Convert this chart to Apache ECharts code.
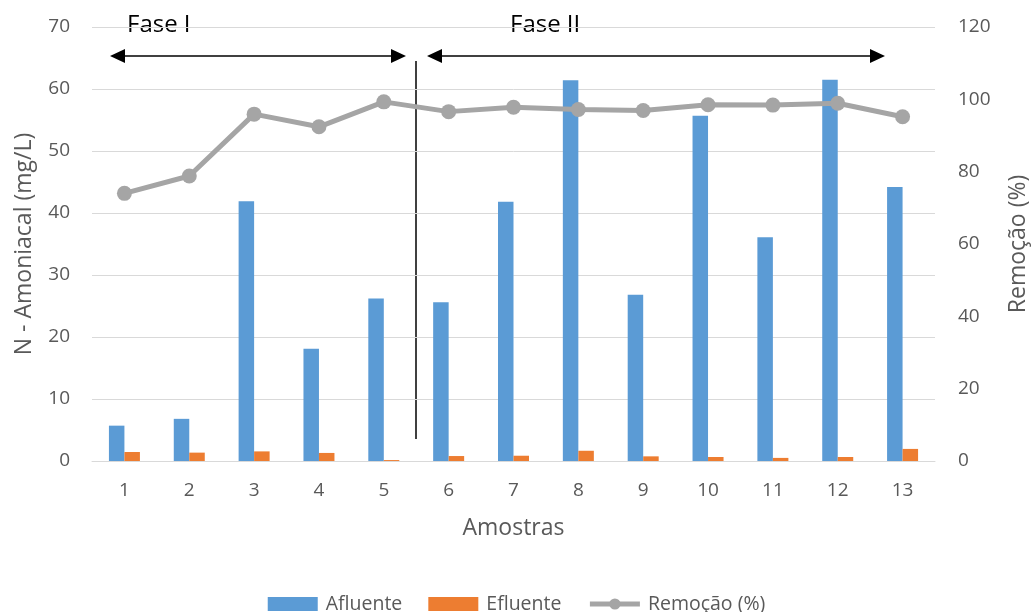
<!DOCTYPE html>
<html>
<head>
<meta charset="utf-8">
<script src="https://cdn.jsdelivr.net/npm/echarts@6/dist/echarts.min.js"></script>
<style>
  html, body { margin: 0; padding: 0; background: #fff; }
  #chart { width: 1033px; height: 612px; }
</style>
</head>
<body>
<div id="chart"></div>
<script>
// Amostras (sample numbers)
const samples = ['1', '2', '3', '4', '5', '6', '7', '8', '9', '10', '11', '12', '13'];
// N-amoniacal, mg/L
const afluente = [5.7, 6.8, 41.9, 18.1, 26.2, 25.6, 41.8, 61.4, 26.8, 55.7, 36.1, 61.5, 44.2];
const efluente = [1.45, 1.35, 1.55, 1.3, 0.15, 0.8, 0.85, 1.65, 0.75, 0.65, 0.5, 0.65, 1.95];
// Remoção, %
const remocao = [74.0, 78.8, 95.9, 92.4, 99.3, 96.6, 97.8, 97.2, 96.9, 98.5, 98.4, 98.9, 95.2];

const FONT = '"Open Sans", "DejaVu Sans", sans-serif';
const TXT = '#595959';

const chart = echarts.init(document.getElementById('chart'), null, { renderer: 'canvas' });

// horizontal double-headed arrow drawn as a line with two triangular heads
function arrow(x1, x2, y) {
  const h = 15, w = 7;
  return {
    type: 'group',
    children: [
      { type: 'line', shape: { x1: x1 + h - 2, y1: y, x2: x2 - h + 2, y2: y }, style: { stroke: '#000', lineWidth: 1.5 } },
      { type: 'polygon', shape: { points: [[x1, y], [x1 + h, y - w], [x1 + h, y + w]] }, style: { fill: '#000' } },
      { type: 'polygon', shape: { points: [[x2, y], [x2 - h, y - w], [x2 - h, y + w]] }, style: { fill: '#000' } }
    ]
  };
}

chart.setOption({
  animation: false,
  textStyle: { fontFamily: FONT },
  grid: { left: 92, right: 98, top: 27, bottom: 151, containLabel: false, outerBoundsMode: 'none' },
  legend: {
    top: 589,
    left: 'center',
    itemWidth: 50,
    itemHeight: 14,
    itemGap: 26,
    textStyle: { fontFamily: FONT, fontSize: 19.5, color: TXT, padding: [0, 0, 0, 3] },
    data: [
      { name: 'Afluente', icon: 'rect' },
      { name: 'Efluente', icon: 'rect' },
      { name: 'Remoção (%)', lineStyle: { width: 5 } }
    ]
  },
  xAxis: {
    type: 'category',
    data: samples,
    name: 'Amostras',
    nameLocation: 'middle',
    nameGap: 56,
    nameTextStyle: { fontFamily: FONT, fontSize: 23, color: TXT },
    axisLine: { show: true, lineStyle: { color: '#D9D9D9', width: 1 } },
    axisTick: { show: false },
    axisLabel: { fontFamily: FONT, fontSize: 19, color: TXT, margin: 20 }
  },
  yAxis: [
    {
      type: 'value',
      min: 0, max: 70, interval: 10,
      name: 'N - Amoniacal (mg/L)',
      nameLocation: 'middle',
      nameGap: 56,
      nameTextStyle: { fontFamily: FONT, fontSize: 23, color: TXT },
      axisLine: { show: false },
      axisTick: { show: false },
      axisLabel: { fontFamily: FONT, fontSize: 19, color: TXT, margin: 22 },
      splitLine: { show: true, lineStyle: { color: '#D9D9D9', width: 1 } }
    },
    {
      type: 'value',
      min: 0, max: 120, interval: 20,
      name: 'Remoção (%)',
      nameLocation: 'middle',
      nameGap: 72,
      nameTextStyle: { fontFamily: FONT, fontSize: 23, color: TXT },
      axisLine: { show: false },
      axisTick: { show: false },
      axisLabel: { fontFamily: FONT, fontSize: 19, color: TXT, margin: 23 },
      splitLine: { show: false }
    }
  ],
  series: [
    {
      name: 'Afluente',
      type: 'bar',
      data: afluente,
      barWidth: 15.5,
      barGap: '0%',
      itemStyle: { color: '#5B9BD5' }
    },
    {
      name: 'Efluente',
      type: 'bar',
      data: efluente,
      barWidth: 15.5,
      barGap: '0%',
      itemStyle: { color: '#ED7D31' }
    },
    {
      name: 'Remoção (%)',
      type: 'line',
      yAxisIndex: 1,
      data: remocao,
      symbol: 'circle',
      symbolSize: 15,
      z: 5,
      lineStyle: { color: '#A5A5A5', width: 5 },
      itemStyle: { color: '#A5A5A5' }
    }
  ],
  graphic: [
    { type: 'text', left: 127, top: 13, style: { text: 'Fase I', font: '24px ' + FONT, fill: '#000' } },
    { type: 'text', left: 510, top: 13, style: { text: 'Fase II', font: '24px ' + FONT, fill: '#000' } },
    arrow(110, 406, 56),
    arrow(427, 885, 56),
    { type: 'line', shape: { x1: 416, y1: 61, x2: 416, y2: 439 }, style: { stroke: '#000', lineWidth: 1.5 } }
  ]
});
</script>
</body>
</html>
